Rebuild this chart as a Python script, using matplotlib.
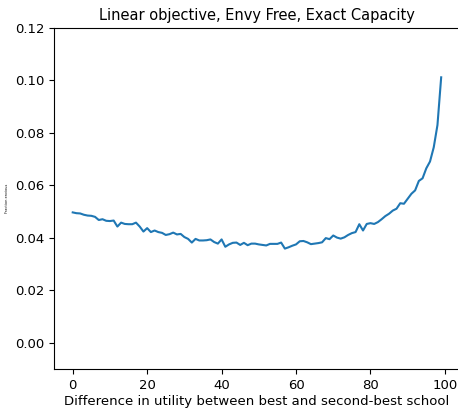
import matplotlib
matplotlib.use("Agg")
import matplotlib.pyplot as plt

# utility gap between best and second-best school
gap = list(range(100))

envy = [
    0.0497, 0.0494, 0.0493, 0.0488, 0.0485, 0.0484, 0.0480, 0.0468, 0.0471, 0.0465,
    0.0464, 0.0466, 0.0443, 0.0458, 0.0453, 0.0452, 0.0452, 0.0458, 0.0443, 0.0424,
    0.0437, 0.0422, 0.0428, 0.0422, 0.0419, 0.0411, 0.0414, 0.0420, 0.0413, 0.0415,
    0.0403, 0.0396, 0.0382, 0.0396, 0.0390, 0.0390, 0.0391, 0.0394, 0.0384, 0.0378,
    0.0394, 0.0366, 0.0375, 0.0381, 0.0382, 0.0373, 0.0381, 0.0372, 0.0378, 0.0378,
    0.0375, 0.0373, 0.0371, 0.0377, 0.0377, 0.0377, 0.0382, 0.0359, 0.0364, 0.0370,
    0.0375, 0.0387, 0.0388, 0.0383, 0.0376, 0.0378, 0.0380, 0.0383, 0.0399, 0.0395,
    0.0409, 0.0401, 0.0397, 0.0402, 0.0411, 0.0418, 0.0422, 0.0452, 0.0428, 0.0453,
    0.0456, 0.0453, 0.0460, 0.0471, 0.0483, 0.0492, 0.0504, 0.0511, 0.0532, 0.0530,
    0.0549, 0.0568, 0.0581, 0.0617, 0.0627, 0.0665, 0.0691, 0.0745, 0.0830, 0.1012,
]

title = "Linear objective, Envy Free, Exact Capacity"
xlabel = "Difference in utility between best and second-best school"
ylabel = "Fraction envious"

fig = plt.figure(figsize=(4.58, 4.09), dpi=100)
# right spine sits just past the image edge, as in the cropped original
ax = fig.add_axes([54.3 / 458, 40 / 409, 405.3 / 458, 341 / 409])

ax.plot(gap, envy, color="#1f77b4", linewidth=1.5)

ax.set_ylim(-0.01, 0.12)
ax.set_yticks([0.0, 0.02, 0.04, 0.06, 0.08, 0.10, 0.12])
ax.set_xticks([0, 20, 40, 60, 80, 100])
ax.set_title(title, fontsize=10.5)
ax.set_xlabel(xlabel, fontsize=9.5, labelpad=2)
ax.tick_params(labelsize=9.5)
ax.set_ylabel(ylabel, fontsize=2.5)
ax.yaxis.set_label_coords(-0.112, 0.5)

fig.savefig("out.png", dpi=100)
